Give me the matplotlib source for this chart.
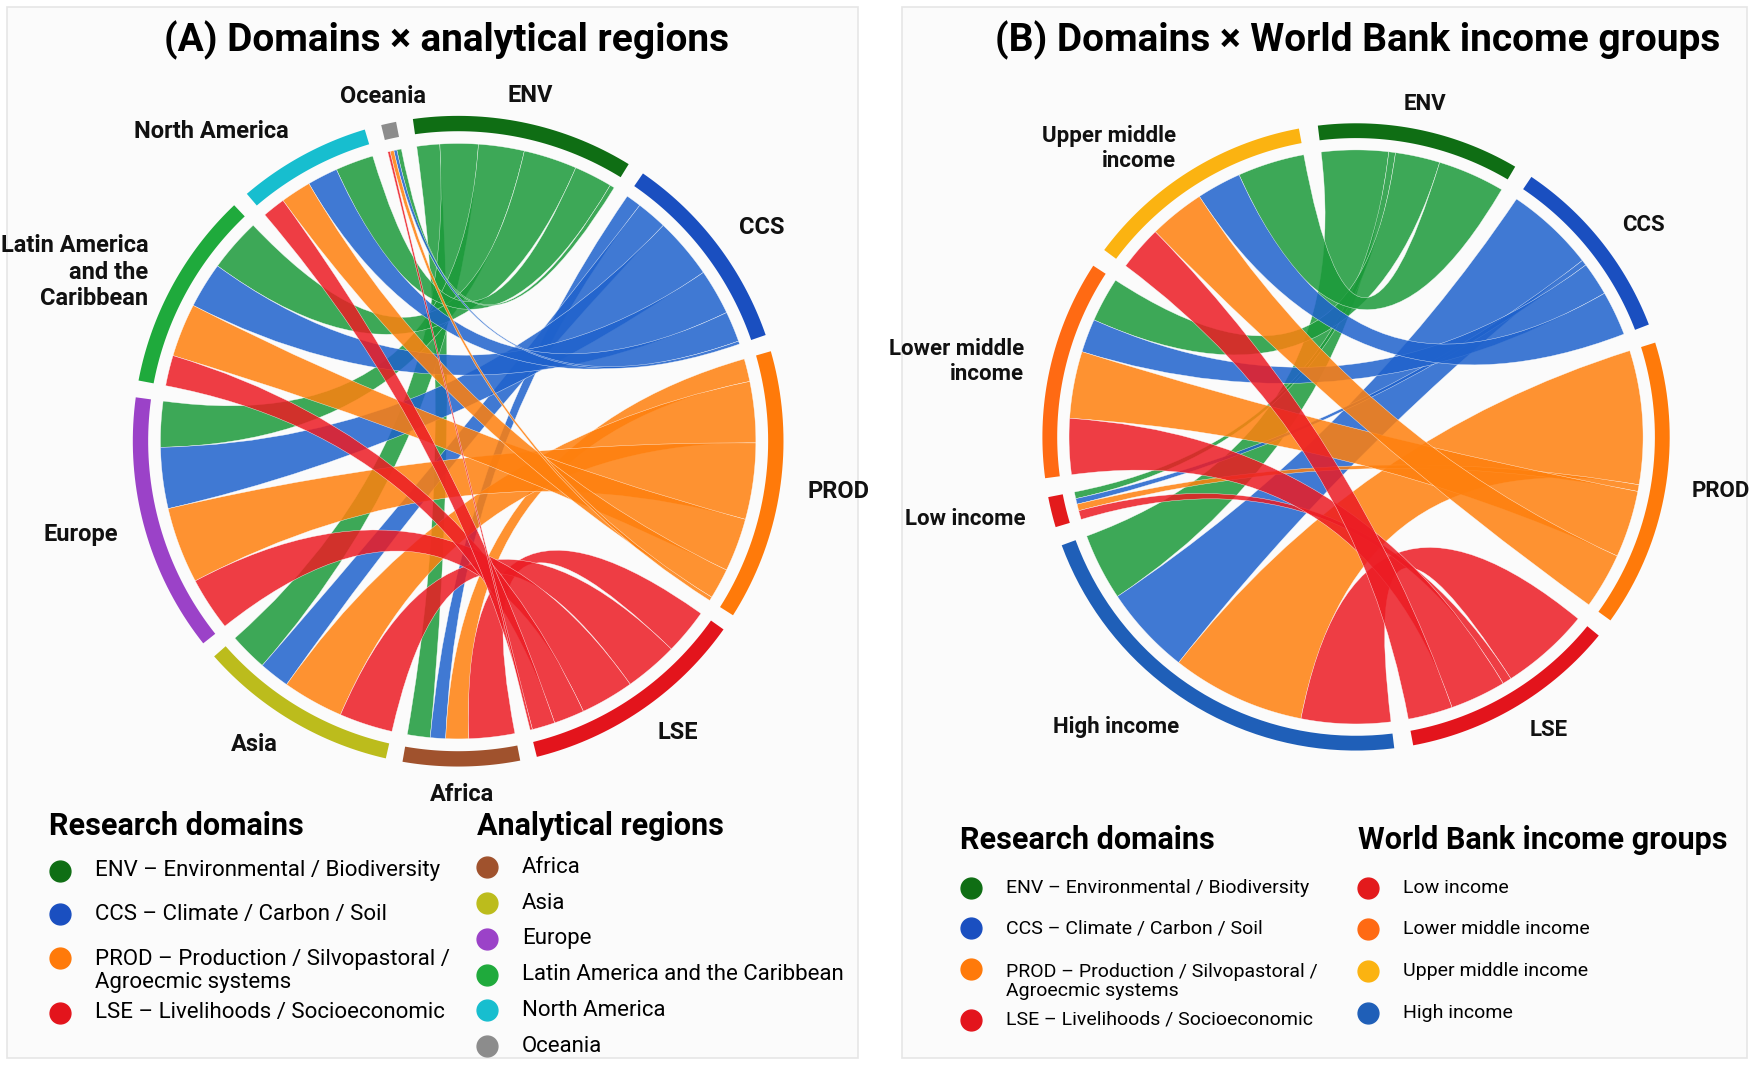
import matplotlib.pyplot as plt
import numpy as np
from matplotlib.path import Path
from matplotlib.patches import PathPatch
from matplotlib.lines import Line2D

plt.rcParams["font.family"] = ["Liberation Sans Narrow", "Roboto", "DejaVu Sans"]

domains = ["ENV", "CCS", "PROD", "LSE"]
domain_colors = ["#1b9a3a", "#1f62cc", "#ff800e", "#ec1c24"]
domain_ring = ["#0f6e14", "#1a4fc0", "#ff7a0a", "#e3141c"]
domain_legend = ["ENV – Environmental / Biodiversity", "CCS – Climate / Carbon / Soil",
                 "PROD – Production / Silvopastoral /\nAgroecmic systems", "LSE – Livelihoods / Socioeconomic"]

regions = ["Africa", "Asia", "Europe", "Latin America\nand the\nCaribbean", "North America", "Oceania"]
region_legend = ["Africa", "Asia", "Europe", "Latin America and the Caribbean", "North America", "Oceania"]
region_colors = ["#a0522d", "#bcbc1c", "#9b42c8", "#1faa3c", "#17becf", "#8c8c8c"]
# rows: ENV, CCS, PROD, LSE ; cols: regions
flows_a = np.array([
    [3, 5, 6, 7, 5, 0.6],
    [2, 4, 8, 6, 4, 0.4],
    [3, 8, 10, 7, 4, 0.5],
    [6, 7, 7, 4, 3, 0.3],
])

incomes = ["High income", "Low income", "Lower middle\nincome", "Upper middle\nincome"]
income_legend = ["Low income", "Lower middle income", "Upper middle income", "High income"]
income_colors = ["#1f5fb8", "#e31a1c", "#ff6a13", "#fbb311"]
flows_b = np.array([
    [6, 0.6, 4, 6],
    [8, 0.5, 3, 4],
    [12, 0.6, 6, 5],
    [8, 0.8, 5, 4],
])


def arc_pts(a0, a1, r, n=40):
    t = np.radians(np.linspace(a0, a1, n))
    return np.column_stack([r * np.cos(t), r * np.sin(t)])


def chord(ax, flows, left_colors, start=98, gap=3.0, r=0.97):
    nd, nr = flows.shape
    totals_d = flows.sum(axis=1)
    totals_r = flows.sum(axis=0)
    total = totals_d.sum() + totals_r.sum()
    scale = (360 - gap * (nd + nr)) / total
    spans = []
    a = start
    for v in list(totals_d) + list(totals_r):
        spans.append((a, a - v * scale))
        a -= v * scale + gap
    for (a0, a1), c in zip(spans, domain_ring + left_colors):
        outer = arc_pts(a0, a1, 1.06)
        inner = arc_pts(a1, a0, 1.01)
        verts = np.vstack([outer, inner, outer[:1]])
        ax.add_patch(PathPatch(Path(verts, closed=True), fc=c, ec="none", zorder=3))
    d_pos = [spans[i][0] for i in range(nd)]
    r_pos = [spans[nd + j][0] for j in range(nr)]
    seg = {}
    for i in range(nd):
        for j in range(nr):
            w = flows[i, j] * scale
            seg[(i, j, "d")] = (d_pos[i], d_pos[i] - w)
            d_pos[i] -= w
    for j in range(nr):
        for i in reversed(range(nd)):
            w = flows[i, j] * scale
            seg[(i, j, "r")] = (r_pos[j], r_pos[j] - w)
            r_pos[j] -= w
    for i in range(nd):
        for j in range(nr):
            da0, da1 = seg[(i, j, "d")]
            ra0, ra1 = seg[(i, j, "r")]
            p1 = arc_pts(da0, da1, r)
            p2 = arc_pts(ra0, ra1, r)
            verts = [tuple(p) for p in p1]
            codes = [Path.MOVETO] + [Path.LINETO] * (len(p1) - 1)
            verts += [(0, 0), tuple(p2[0])]
            codes += [Path.CURVE3, Path.CURVE3]
            verts += [tuple(p) for p in p2[1:]]
            codes += [Path.LINETO] * (len(p2) - 1)
            verts += [(0, 0), tuple(p1[0])]
            codes += [Path.CURVE3, Path.CURVE3]
            ax.add_patch(PathPatch(Path(verts, codes), fc=domain_colors[i], ec="white",
                                   lw=0.3, alpha=0.85, zorder=2))
    return spans


def label_groups(ax, spans, names, rad=1.15, size=17):
    for (a0, a1), name in zip(spans, names):
        m = np.radians((a0 + a1) / 2)
        x, y = rad * np.cos(m), rad * np.sin(m)
        ha = "left" if x > 0.25 else ("right" if x < -0.25 else "center")
        ax.text(x, y, name, ha=ha, va="center", fontsize=size, fontweight="bold",
                color="#111111", linespacing=1.2)


fig = plt.figure(figsize=(17.52, 10.67), dpi=100)
fig.patch.set_facecolor("white")
for x0, w in [(0.004, 0.486), (0.515, 0.482)]:
    fig.patches.append(plt.Rectangle((x0, 0.008), w, 0.985, transform=fig.transFigure,
                                     fc="#fbfbfb", ec="#e6e6e6", lw=1.2, zorder=-1))

ax1 = fig.add_axes([0.025, 0.198, 0.473, 0.777])
ax1.set_xlim(-1.35, 1.35)
ax1.set_ylim(-1.35, 1.35)
ax1.set_aspect("equal")
ax1.axis("off")
sp = chord(ax1, flows_a, region_colors)
label_groups(ax1, sp, domains + regions)
fig.text(0.255, 0.962, "(A) Domains × analytical regions", ha="center", va="center",
         fontsize=28, fontweight="bold")

ax2 = fig.add_axes([0.546, 0.216, 0.456, 0.749])
ax2.set_xlim(-1.35, 1.35)
ax2.set_ylim(-1.35, 1.35)
ax2.set_aspect("equal")
ax2.axis("off")
sp = chord(ax2, flows_b, income_colors, start=97, gap=3.5)
label_groups(ax2, sp, domains + incomes, size=16)
fig.text(0.775, 0.962, "(B) Domains × World Bank income groups", ha="center", va="center",
         fontsize=28, fontweight="bold")


def legend(x, y, title, labels, colors, dy, first=0.045, size=15, tsize=22):
    fig.text(x, y, title, fontsize=tsize, fontweight="bold", va="center")
    yy = y - first
    for lab, c in zip(labels, colors):
        fig.add_artist(Line2D([x + 0.006], [yy], marker="o", ms=15, color=c,
                              transform=fig.transFigure))
        fig.text(x + 0.026, yy + (0.0 if "\n" not in lab else -0.012), lab,
                 fontsize=size, va="center", linespacing=1.1)
        yy -= dy * (1.25 if "\n" in lab else 1)


legend(0.028, 0.226, "Research domains", domain_legend, domain_ring, 0.041, first=0.042, size=16)
legend(0.272, 0.226, "Analytical regions", region_legend, region_colors, 0.0335, first=0.039, size=16)
legend(0.548, 0.213, "Research domains", domain_legend, domain_ring, 0.038, size=14)
legend(0.775, 0.213, "World Bank income groups", income_legend,
       ["#e31a1c", "#ff6a13", "#fbb311", "#1f5fb8"], 0.039, size=14)

fig.savefig("out.png", dpi=100)
